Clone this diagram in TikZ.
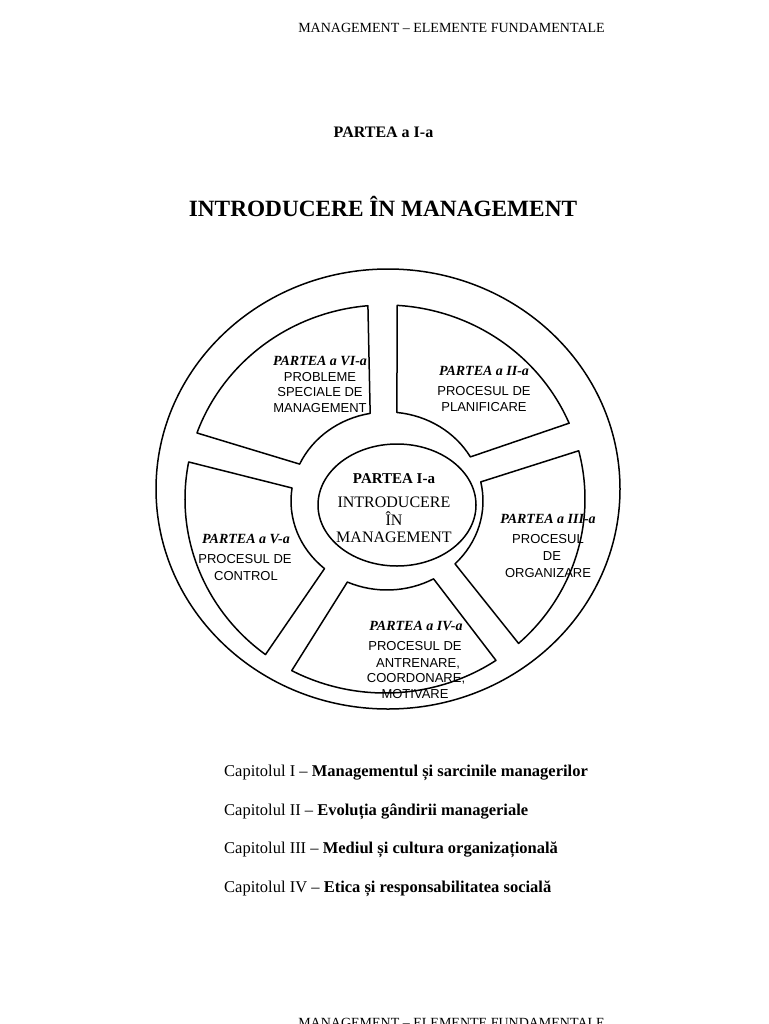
\documentclass[tikz,border=0pt]{standalone}
\usepackage{fontspec}
\setmainfont{Liberation Serif}
\setsansfont{Liberation Sans}
\usetikzlibrary{calc}
\begin{document}
\begin{tikzpicture}[x=1pt,y=-1pt,
  wheel/.style={line width=1.5pt, line join=round},
  txt/.style={inner sep=0pt, anchor=base},
  hdr/.style={txt, font=\fontsize{14}{16}\selectfont},
  parttitle/.style={txt, font=\bfseries\fontsize{16}{18}\selectfont},
  bigtitle/.style={txt, font=\bfseries\fontsize{23.3}{26}\selectfont},
  chap/.style={inner sep=0pt, anchor=base west, font=\fontsize{16.5}{18}\selectfont},
  segpart/.style={txt, font=\bfseries\itshape\fontsize{14}{16}\selectfont},
  segtext/.style={txt, font=\sffamily\fontsize{13}{15}\selectfont},
  ctrpart/.style={txt, font=\bfseries\fontsize{15}{17}\selectfont},
  ctrtext/.style={txt, font=\fontsize{16}{18}\selectfont}
]
\useasboundingbox (0,0) rectangle (768,1024);
\fill[white] (0,0) rectangle (768,1024);

% headers and titles
\node[hdr] (hdrtop) at (451.5,33) {MANAGEMENT – ELEMENTE FUNDAMENTALE};
\node[hdr] (hdrbot) at (451.5,1027) {MANAGEMENT – ELEMENTE FUNDAMENTALE};
\node[parttitle] (partea) at (383.5,137.7) {PARTEA a I-a};
\node[bigtitle] (title) at (383,216.7) {INTRODUCERE ÎN MANAGEMENT};

% wheel
\coordinate (Sc) at (385,499);
\coordinate (Ic) at (387,501);
\draw[wheel] (388,489) ellipse [x radius=232, y radius=220];
\draw[wheel] (397,505) ellipse [x radius=79, y radius=61];

% segment VI
\draw[wheel] ($(Sc)+(-94.9:200 and 194)$) -- ($(Ic)+(-100.1:96 and 89)$)
  arc[start angle=-100.1, end angle=-155.5, x radius=96, y radius=89]
  -- ($(Sc)+(-160.1:200 and 194)$)
  arc[start angle=-160.1, end angle=-94.9, x radius=200, y radius=194] -- cycle;
% segment II
\draw[wheel] ($(Sc)+(-86.5:200 and 194)$) -- ($(Ic)+(-84.1:96 and 89)$)
  arc[start angle=-84.1, end angle=-29.7, x radius=96, y radius=89]
  -- ($(Sc)+(-23.0:200 and 194)$)
  arc[start angle=-23.0, end angle=-86.5, x radius=200, y radius=194] -- cycle;
% segment III
\draw[wheel] ($(Ic)+(-12.4:96 and 89)$) -- ($(Sc)+(-14.4:200 and 194)$)
  arc[start angle=-14.4, end angle=48.1, x radius=200, y radius=194]
  -- ($(Ic)+(44.9:96 and 89)$)
  arc[start angle=44.9, end angle=-12.4, x radius=96, y radius=89] -- cycle;
% segment IV
\draw[wheel] ($(Ic)+(114.4:96 and 89)$)
  arc[start angle=114.4, end angle=61.0, x radius=96, y radius=89]
  -- ($(Sc)+(56.3:200 and 194)$)
  arc[start angle=56.3, end angle=117.8, x radius=200, y radius=194] -- cycle;
% segment V
\draw[wheel] ($(Sc)+(191.0:200 and 194)$) -- ($(Ic)+(188.4:96 and 89)$)
  arc[start angle=188.4, end angle=130.6, x radius=96, y radius=89]
  -- ($(Sc)+(126.7:200 and 194)$)
  arc[start angle=126.7, end angle=191.0, x radius=200, y radius=194] -- cycle;

% center texts
\node[ctrpart] (c1) at (394,483) {PARTEA I-a};
\node[ctrtext] (c2) at (394,507) {INTRODUCERE};
\node[ctrtext] (c3) at (394,525) {ÎN};
\node[ctrtext] (c4) at (394,542) {MANAGEMENT};

% segment VI texts
\node[segpart] (s6a) at (320,365) {PARTEA a VI-a};
\node[segtext] (s6b) at (320,381) {PROBLEME};
\node[segtext] (s6c) at (320,396) {SPECIALE DE};
\node[segtext] (s6d) at (320,412) {MANAGEMENT};

% segment II texts
\node[segpart] (s2a) at (484,375) {PARTEA a II-a};
\node[segtext] (s2b) at (484,395) {PROCESUL DE};
\node[segtext] (s2c) at (484,411) {PLANIFICARE};

% segment III texts
\node[segpart] (s3a) at (548,523) {PARTEA a III-a};
\node[segtext] (s3b) at (548,543) {PROCESUL};
\node[segtext] (s3c) at (552,560) {DE};
\node[segtext] (s3d) at (548,577) {ORGANIZARE};

% segment V texts
\node[segpart] (s5a) at (246,543) {PARTEA a V-a};
\node[segtext] (s5b) at (245,563) {PROCESUL DE};
\node[segtext] (s5c) at (246,580) {CONTROL};

% segment IV texts
\node[segpart] (s4a) at (416,630) {PARTEA a IV-a};
\node[segtext] (s4b) at (415,650) {PROCESUL DE};
\node[segtext] (s4c) at (418,667) {ANTRENARE,};
\node[segtext] (s4d) at (416,682) {COORDONARE,};
\node[segtext] (s4e) at (415,698) {MOTIVARE};

% chapter list
\node[chap] (ch1) at (224,776) {Capitolul I – \textbf{Managementul și sarcinile managerilor}};
\node[chap] (ch2) at (224,815) {Capitolul II – \textbf{Evoluția gândirii manageriale}};
\node[chap] (ch3) at (224,853.5) {Capitolul III – \textbf{Mediul și cultura organizațională}};
\node[chap] (ch4) at (224,892) {Capitolul IV – \textbf{Etica și responsabilitatea socială}};
\end{tikzpicture}
\end{document}
